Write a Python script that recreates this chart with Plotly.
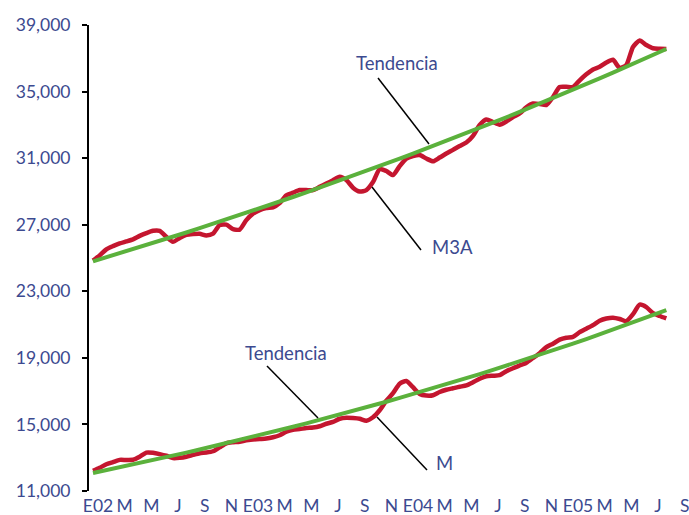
import plotly.graph_objects as go

# ---------------- data ----------------
# monthly positions (0 = Jan 2002 ... 43 = Aug 2005)
trend_months = list(range(44))
# half-month positions for the observed series
obs_months = [k / 2 for k in range(87)]

tick_months = list(range(0, 45, 2))
tick_labels = ["E02", "M", "M", "J", "S", "N",
               "E03", "M", "M", "J", "S", "N",
               "E04", "M", "M", "J", "S", "N",
               "E05", "M", "M", "J", "S"]

m3a_trend = [24800, 25041, 25284, 25529, 25777, 26027, 26279, 26534, 26791, 27051,
             27313, 27578, 27846, 28116, 28389, 28664, 28942, 29223, 29506, 29792,
             30081, 30373, 30668, 30965, 31266, 31569, 31875, 32184, 32496, 32812,
             33130, 33451, 33776, 34103, 34434, 34768, 35105, 35446, 35790, 36137,
             36487, 36841, 37198, 37559]

m3a = [24842, 25155, 25521, 25714, 25876, 25996, 26123, 26327, 26496, 26634,
       26628, 26273, 25972, 26207, 26387, 26435, 26453, 26357, 26466, 26977,
       27007, 26736, 26706, 27277, 27668, 27878, 27999, 28047, 28299, 28768,
       28925, 29081, 29081, 29081, 29274, 29472, 29670, 29875, 29682, 29225,
       28991, 29081, 29562, 30344, 30224, 29983, 30524, 30975, 31126, 31186,
       30975, 30807, 31035, 31276, 31498, 31727, 31937, 32340, 32990, 33320,
       33170, 33008, 33200, 33471, 33681, 34054, 34282, 34252, 34192, 34673,
       35274, 35287, 35274, 35677, 36038, 36327, 36489, 36748, 36910, 36417,
       36600, 37680, 38071, 37800, 37602, 37577, 37559]

m_trend = [12082, 12250, 12420, 12593, 12768, 12945, 13125, 13307, 13492, 13679,
           13869, 14062, 14257, 14455, 14656, 14860, 15066, 15275, 15487, 15702,
           15920, 16141, 16365, 16592, 16823, 17057, 17294, 17534, 17778, 18025,
           18275, 18529, 18786, 19047, 19312, 19580, 19852, 20128, 20408, 20691,
           20978, 21270, 21565, 21865]

m = [12215, 12395, 12605, 12738, 12870, 12864, 12876, 13056, 13309, 13297,
     13219, 13117, 12978, 12996, 13062, 13171, 13273, 13309, 13387, 13628,
     13868, 13928, 13958, 14049, 14091, 14121, 14151, 14229, 14349, 14560,
     14680, 14722, 14782, 14812, 14890, 15041, 15149, 15341, 15402, 15383,
     15341, 15221, 15432, 15853, 16424, 16875, 17446, 17614, 17235, 16833,
     16736, 16754, 16947, 17085, 17175, 17266, 17344, 17536, 17747, 17897,
     17927, 17957, 18198, 18378, 18540, 18709, 18991, 19280, 19641, 19851,
     20092, 20212, 20260, 20543, 20753, 20964, 21234, 21366, 21415, 21336,
     21204, 21625, 22196, 22046, 21685, 21517, 21366]

y_ticks = [11000, 15000, 19000, 23000, 27000, 31000, 35000, 39000]

# ---------------- style ----------------
RED = "#c4162f"
GREEN = "#5bb13c"
BLUE = "#3c4a90"
FONT = "Lato"
W, H = 689, 515
ML, MR, MT, MB = 89, 0, 25, 24


def P(px, py):
    """screen pixel -> paper coordinates"""
    return (px - ML) / (W - ML - MR), (H - MB - py) / (H - MT - MB)


fig = go.Figure()
fig.add_trace(go.Scatter(x=obs_months, y=m3a, mode="lines",
                         line=dict(color=RED, width=4.5, shape="spline", smoothing=0.6),
                         hoverinfo="skip"))
fig.add_trace(go.Scatter(x=obs_months, y=m, mode="lines",
                         line=dict(color=RED, width=4.5, shape="spline", smoothing=0.6),
                         hoverinfo="skip"))
fig.add_trace(go.Scatter(x=trend_months, y=m3a_trend, mode="lines",
                         line=dict(color=GREEN, width=4), hoverinfo="skip"))
fig.add_trace(go.Scatter(x=trend_months, y=m_trend, mode="lines",
                         line=dict(color=GREEN, width=4), hoverinfo="skip"))

# leader lines + labels (screen pixels)
labels = [
    ("Tendencia", (397, 63), (378, 78), (429, 144)),
    ("M3A", (452, 247), (372, 187), (421, 250)),
    ("Tendencia", (286, 353), (267, 366), (318, 418)),
    ("M", (444, 463), (377, 417), (427, 470)),
]
for text, tpos, p0, p1 in labels:
    x0, y0 = P(*p0)
    x1, y1 = P(*p1)
    fig.add_shape(type="line", xref="paper", yref="paper", x0=x0, y0=y0, x1=x1, y1=y1,
                  line=dict(color="black", width=1.5))
    tx, ty = P(*tpos)
    fig.add_annotation(xref="paper", yref="paper", x=tx, y=ty, text=text,
                       showarrow=False, xanchor="center", yanchor="middle",
                       font=dict(family=FONT, size=18.5, color=BLUE))

fig.update_layout(
    width=W, height=H,
    margin=dict(l=ML, r=MR, t=MT, b=MB),
    paper_bgcolor="white", plot_bgcolor="white",
    showlegend=False,
    font=dict(family=FONT, size=17.5, color=BLUE),
)
fig.update_xaxes(range=[-0.3, 44.7], tickmode="array", tickvals=tick_months,
                 ticktext=tick_labels, showgrid=False, zeroline=False,
                 showline=False, ticks="", ticklabelshift=5, ticklabelstandoff=2,
                 ticklabeloverflow="allow",
                 tickfont=dict(family=FONT, size=17.5, color=BLUE), automargin=False)
fig.update_yaxes(range=[11000, 39000], tickmode="array", tickvals=y_ticks,
                 tickformat=",d", showgrid=False, zeroline=False,
                 showline=True, linecolor="black", linewidth=2,
                 ticks="outside", ticklen=5, tickwidth=2, tickcolor="black",
                 ticklabelstandoff=8,
                 tickfont=dict(family=FONT, size=17.5, color=BLUE), automargin=False)

fig.write_html("out.html",
               config={"displayModeBar": False, "staticPlot": True},
               post_script="document.body.style.margin='0';"
                           "document.body.style.overflow='hidden';")
